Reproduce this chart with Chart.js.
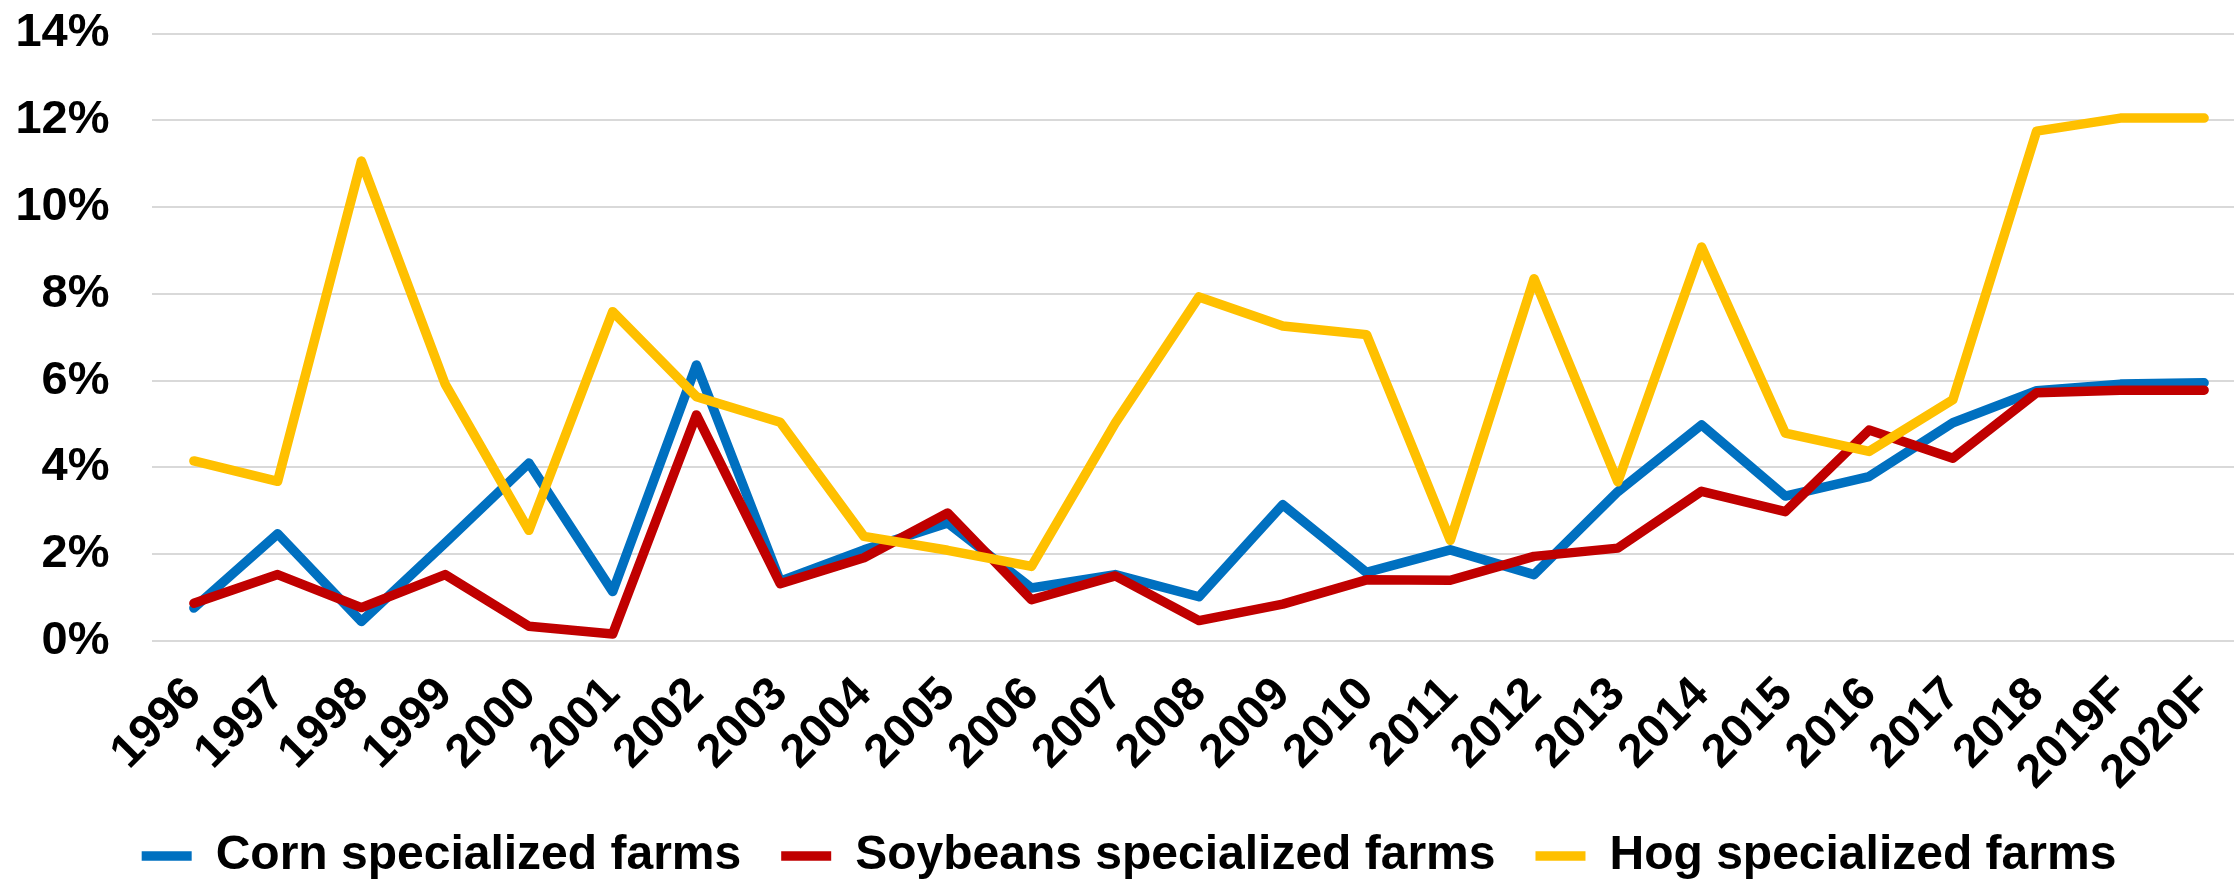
<!DOCTYPE html>
<html>
<head>
<meta charset="utf-8">
<script src="https://cdn.jsdelivr.net/npm/chart.js@4/dist/chart.umd.min.js"></script>
<style>
  html, body { margin: 0; padding: 0; background: #fff; overflow: hidden; }
  #wrap { width: 2293px; height: 881px; position: relative; }
</style>
</head>
<body>
<div id="wrap"><canvas id="farmChart"></canvas></div>
<script>
// ── data (%) ─────────────────────────────────────
const years = ['1996', '1997', '1998', '1999', '2000', '2001', '2002', '2003', '2004',
               '2005', '2006', '2007', '2008', '2009', '2010', '2011', '2012', '2013',
               '2014', '2015', '2016', '2017', '2018', '2019F', '2020F'];

const corn = [0.76, 2.47, 0.45, 2.26, 4.10, 1.14, 6.36, 1.38, 2.10, 2.72, 1.22, 1.53, 1.02,
              3.14, 1.58, 2.10, 1.53, 3.44, 4.98, 3.34, 3.79, 5.03, 5.77, 5.92, 5.95];

const soybeans = [0.87, 1.53, 0.77, 1.53, 0.34, 0.16, 5.21, 1.32, 1.92, 2.95, 0.95, 1.50, 0.47,
                  0.85, 1.41, 1.40, 1.95, 2.14, 3.45, 2.98, 4.86, 4.21, 5.72, 5.78, 5.78];

const hogs = [4.15, 3.68, 11.06, 5.92, 2.55, 7.59, 5.63, 5.04, 2.41, 2.09, 1.72, 5.02, 7.93,
              7.26, 7.06, 2.32, 8.35, 3.67, 9.08, 4.79, 4.37, 5.56, 11.75, 12.05, 12.05];

const yTicks = [0, 2, 4, 6, 8, 10, 12, 14];

const BLUE = '#0070c0', RED = '#c00000', GOLD = '#ffc000';
const FONT = "'Liberation Sans', Arial, sans-serif";

function series(label, data, color, order) {
    return {
        label, data, order,
        borderColor: color,
        backgroundColor: color,
        borderWidth: 9.5,
        borderJoinStyle: 'round',
        borderCapStyle: 'round',
        pointRadius: 0,
        pointHoverRadius: 0,
        tension: 0,
    };
}

new Chart(document.getElementById('farmChart'), {
    type: 'line',
    data: {
        labels: years,
        // higher order is drawn first, so hogs end up on top
        datasets: [
            series('Corn specialized farms', corn, BLUE, 3),
            series('Soybeans specialized farms', soybeans, RED, 2),
            series('Hog specialized farms', hogs, GOLD, 1),
        ]
    },
    options: {
        responsive: true,
        maintainAspectRatio: false,
        animation: false,
        layout: { padding: { left: 12, right: 47, top: 33.5, bottom: -9 } },
        plugins: {
            tooltip: { enabled: false },
            legend: {
                position: 'bottom',
                reverse: true,
                labels: {
                    usePointStyle: true,
                    pointStyle: 'line',
                    pointStyleWidth: 50,
                    padding: 40,
                    color: '#000',
                    font: { family: FONT, size: 48, weight: 'bold' },
                }
            }
        },
        scales: {
            x: {
                offset: true,
                grid: { display: false, drawTicks: false },
                border: { display: false },
                ticks: {
                    autoSkip: false,
                    minRotation: 45,
                    maxRotation: 45,
                    padding: 26,
                    color: '#000',
                    font: { family: FONT, size: 47, weight: 'bold' },
                },
                afterFit: s => { s.height = 151; }
            },
            y: {
                min: yTicks[0],
                max: yTicks[yTicks.length - 1],
                grid: { color: '#d9d9d9', lineWidth: 2, drawTicks: false },
                border: { display: false },
                ticks: {
                    stepSize: yTicks[1] - yTicks[0],
                    padding: 42.5,
                    color: '#000',
                    font: { family: FONT, size: 47, weight: 'bold' },
                    callback: v => v + '%'
                },
                // fixed axis width; no extra room above/below the plot for labels
                afterFit: s => { s.width = 140; s.paddingTop = 0; s.paddingBottom = 0; }
            }
        }
    }
});
</script>
</body>
</html>
